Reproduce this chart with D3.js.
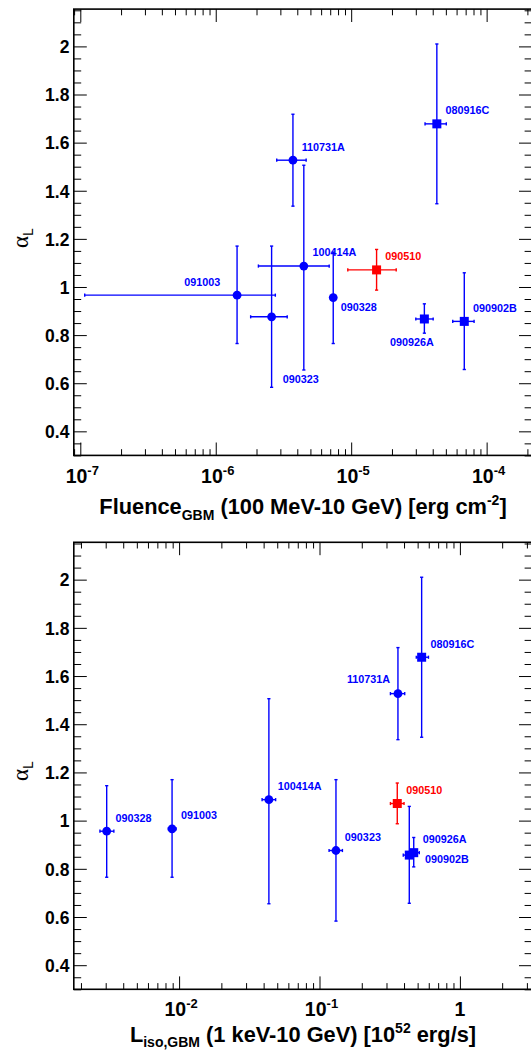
<!DOCTYPE html>
<html>
<head>
<meta charset="utf-8">
<script src="https://cdn.jsdelivr.net/npm/d3@7"></script>
<style>
body { margin: 0; background: #fff; }
svg text { font-family: "Liberation Sans", Arial, Helvetica, sans-serif; }
</style>
</head>
<body>
<div id="chart"></div>
<script>
/////////////////////////
// data
/////////////////////////
const grbNames  = ["080916C", "090323", "090328", "090510", "090902B", "090926A", "091003", "100414A", "110731A"];
const alphaL    = [1.678, 0.876, 0.956, 1.071, 0.857, 0.867, 0.966, 1.087, 1.527];
const alphaLo   = [1.346, 0.583, 0.765, 0.987, 0.657, 0.808, 0.765, 0.655, 1.336];
const alphaHi   = [2.010, 1.170, 1.145, 1.156, 1.059, 0.930, 1.170, 1.506, 1.718];
// fluence (100 MeV-10 GeV), erg cm^-2
const fluence   = [4.29e-5, 2.585e-6, 7.37e-6, 1.54e-5, 6.84e-5, 3.47e-5, 1.437e-6, 4.47e-6, 3.715e-6];
const fluenceLo = [3.51e-5, 1.81e-6, 7.15e-6, 9.44e-6, 5.62e-5, 3.00e-5, 1.078e-7, 2.065e-6, 2.82e-6];
const fluenceHi = [5.04e-5, 3.37e-6, 7.60e-6, 2.15e-5, 8.08e-5, 4.03e-5, 2.754e-6, 6.88e-6, 4.65e-6];
// L_iso (1 keV-10 GeV), 10^52 erg/s
const liso      = [0.534, 0.131, 0.00305, 0.358, 0.436, 0.469, 0.00891, 0.0436, 0.362];
const lisoLo    = [0.489, 0.117, 0.00273, 0.320, 0.395, 0.427, 0.00838, 0.0390, 0.320];
const lisoHi    = [0.597, 0.1456, 0.00343, 0.400, 0.479, 0.514, 0.00952, 0.0487, 0.4045];

const yTicks = [0.4, 0.6, 0.8, 1, 1.2, 1.4, 1.6, 1.8, 2];
const fluenceTicks = [1e-7, 1e-6, 1e-5, 1e-4];
const fluenceTickLabels = [["10", "-7"], ["10", "-6"], ["10", "-5"], ["10", "-4"]];
const lisoTicks = [1e-2, 1e-1, 1];
const lisoTickLabels = [["10", "-2"], ["10", "-1"], ["1", ""]];

/////////////////////////
// style
/////////////////////////
const squareGrbs = ["080916C", "090510", "090902B", "090926A"];
const redGrbs = ["090510"];
const blue = "#0000ff", red = "#ff0000";

const W = 531, H = 1051;
const plotLeft = 73.8, plotRight = 532;
const yDomain = [0.3, 2.155];

const svg = d3.select("#chart").append("svg")
    .attr("width", W).attr("height", H)
    .attr("viewBox", `0 0 ${W} ${H}`);

function minorLog(domain) {
    var out = [];
    var lo = Math.floor(Math.log10(domain[0])), hi = Math.ceil(Math.log10(domain[1]));
    for (var e = lo; e <= hi; e++) {
        for (var m = 2; m <= 9; m++) {
            var v = m * Math.pow(10, e);
            if (v >= domain[0] && v <= domain[1]) out.push(v);
        }
    }
    return out;
}

function drawPanel(p) {
    const x = d3.scaleLog().domain(p.xDomain).range([plotLeft, plotRight]);
    const y = d3.scaleLinear().domain(yDomain).range([p.bottom, p.top]);
    const yMinor = d3.range(6, 44).map(i => +(i * 0.05).toFixed(2)).filter(v => yTicks.indexOf(v) < 0);
    const xMinor = minorLog(p.xDomain);

    const g = svg.append("g");

    // axes (ticks inward)
    function tickAxis(axis, tx, ty) {
        const a = g.append("g").attr("transform", `translate(${tx},${ty})`).call(axis);
        a.select(".domain").remove();
        a.selectAll("line").attr("stroke", "#000").attr("stroke-width", 1);
        return a;
    }
    const yAx = tickAxis(d3.axisLeft(y).tickValues(yTicks).tickSizeInner(-13).tickSizeOuter(0)
        .tickPadding(4.4).tickFormat(d3.format("~g")), plotLeft, 0);
    yAx.selectAll("text")
        .attr("font-size", 17.5).attr("font-weight", "bold")
        .attr("font-family", "Liberation Sans, Arial, sans-serif")
        .attr("fill", "#000").attr("dy", "0.36em");
    tickAxis(d3.axisLeft(y).tickValues(yMinor).tickSize(-7.4).tickFormat(""), plotLeft, 0);
    tickAxis(d3.axisRight(y).tickValues(yTicks).tickSize(-13).tickFormat(""), plotRight, 0);
    tickAxis(d3.axisRight(y).tickValues(yMinor).tickSize(-7.4).tickFormat(""), plotRight, 0);
    tickAxis(d3.axisBottom(x).tickValues(p.ticks).tickSize(-12.9).tickFormat(""), 0, p.bottom);
    tickAxis(d3.axisBottom(x).tickValues(xMinor).tickSize(-6.2).tickFormat(""), 0, p.bottom);
    tickAxis(d3.axisTop(x).tickValues(p.ticks).tickSize(-12.9).tickFormat(""), 0, p.top);
    tickAxis(d3.axisTop(x).tickValues(xMinor).tickSize(-6.2).tickFormat(""), 0, p.top);

    // frame
    g.append("rect")
        .attr("x", plotLeft).attr("y", p.top)
        .attr("width", plotRight - plotLeft).attr("height", p.bottom - p.top)
        .attr("fill", "none").attr("stroke", "#000").attr("stroke-width", 1.6);

    // x tick labels 10^n
    const xl = g.selectAll(".xlab").data(p.ticks).join("text")
        .attr("class", "xlab")
        .attr("x", d => x(d) + (p.tickLabels[p.ticks.indexOf(d)][1] ? 2 : 0))
        .attr("y", p.labelBaseline)
        .attr("text-anchor", "middle")
        .attr("font-size", 19.5).attr("font-weight", "bold");
    xl.append("tspan").text((d, i) => p.tickLabels[i][0]);
    xl.append("tspan").attr("dy", -8.5).attr("font-size", 13)
        .text((d, i) => p.tickLabels[i][1]);

    // axis title
    const t = g.append("text")
        .attr("x", 303).attr("y", p.titleBaseline)
        .attr("text-anchor", "middle")
        .attr("font-size", 21.8).attr("font-weight", "bold");
    p.title.forEach(function(part) {
        t.append("tspan")
            .attr("dy", part.dy || 0)
            .attr("font-size", part.size || 21.8)
            .text(part.s);
    });

    // y title alpha_L
    const yl = g.append("text")
        .attr("transform", `translate(28,${p.yLabelCenter}) rotate(-90)`)
        .attr("text-anchor", "middle");
    yl.append("tspan").attr("font-family", "Liberation Serif, serif").attr("font-size", 23).text("\u03b1");
    yl.append("tspan").attr("dy", 5).attr("font-size", 14).text("L");

    // points
    const pts = grbNames.map((n, i) => ({
        name: n, x: p.xs[i], xlo: p.xlo[i], xhi: p.xhi[i],
        y: alphaL[i], ylo: alphaLo[i], yhi: alphaHi[i],
        color: redGrbs.indexOf(n) >= 0 ? red : blue,
        square: squareGrbs.indexOf(n) >= 0
    }));

    const cap = 1.6;
    const pg = g.selectAll(".pt").data(pts).join("g").attr("class", "pt");
    pg.append("line")
        .attr("x1", d => x(d.xlo)).attr("x2", d => x(d.xhi))
        .attr("y1", d => y(d.y)).attr("y2", d => y(d.y));
    pg.append("line")
        .attr("x1", d => x(d.x)).attr("x2", d => x(d.x))
        .attr("y1", d => y(d.ylo)).attr("y2", d => y(d.yhi));
    ["xlo", "xhi"].forEach(function(k) {
        pg.append("line")
            .attr("x1", d => x(d[k])).attr("x2", d => x(d[k]))
            .attr("y1", d => y(d.y) - cap).attr("y2", d => y(d.y) + cap);
    });
    ["ylo", "yhi"].forEach(function(k) {
        pg.append("line")
            .attr("x1", d => x(d.x) - cap).attr("x2", d => x(d.x) + cap)
            .attr("y1", d => y(d[k])).attr("y2", d => y(d[k]));
    });
    pg.selectAll("line").attr("stroke", d => d.color).attr("stroke-width", 1.4);

    pg.filter(d => !d.square).append("circle")
        .attr("cx", d => x(d.x)).attr("cy", d => y(d.y)).attr("r", 4.4)
        .attr("fill", d => d.color);
    pg.filter(d => d.square).append("rect")
        .attr("x", d => x(d.x) - 4.5).attr("y", d => y(d.y) - 4.5)
        .attr("width", 9).attr("height", 9)
        .attr("fill", d => d.color);

    // labels
    pg.append("text")
        .attr("x", d => x(d.x) + (p.offsets[d.name] || p.defOffset)[0])
        .attr("y", d => y(d.y) + (p.offsets[d.name] || p.defOffset)[1])
        .attr("text-anchor", d => (p.offsets[d.name] || p.defOffset)[2])
        .attr("font-size", 10.8).attr("font-weight", "bold")
        .attr("fill", d => d.color)
        .text(d => d.name);
}

drawPanel({
    top: 9.1, bottom: 455.4,
    xDomain: [Math.pow(10, -7.048), Math.pow(10, -3.665)],
    xs: fluence, xlo: fluenceLo, xhi: fluenceHi,
    ticks: fluenceTicks, tickLabels: fluenceTickLabels,
    labelBaseline: 483, titleBaseline: 514, yLabelCenter: 238,
    title: [{s: "Fluence"}, {s: "GBM", size: 14, dy: 5.5}, {s: " (100 MeV-10 GeV) [erg cm", dy: -5.5},
            {s: "-2", size: 14, dy: -9}, {s: "]", dy: 9}],
    defOffset: [8.7, -9.6, "start"],
    offsets: {
        "091003": [-16.9, -9.5, "end"],
        "090328": [7.5, 13.5, "start"],
        "090926A": [9.5, 26.8, "end"],
        "090323": [11.2, 66, "start"]
    }
});

drawPanel({
    top: 542.3, bottom: 989.3,
    xDomain: [Math.pow(10, -2.75), Math.pow(10, 0.5135)],
    xs: liso, xlo: lisoLo, xhi: lisoHi,
    ticks: lisoTicks, tickLabels: lisoTickLabels,
    labelBaseline: 1016.3, titleBaseline: 1042, yLabelCenter: 771,
    title: [{s: "L"}, {s: "iso,GBM", size: 14, dy: 5}, {s: "  (1 keV-10 GeV) [10", dy: -5},
            {s: "52", size: 14, dy: -9}, {s: " erg/s]", dy: 9}],
    defOffset: [8.9, -9.7, "start"],
    offsets: {
        "110731A": [-7.8, -10.2, "end"],
        "090902B": [15.7, 8.4, "start"]
    }
});
</script>
</body>
</html>
